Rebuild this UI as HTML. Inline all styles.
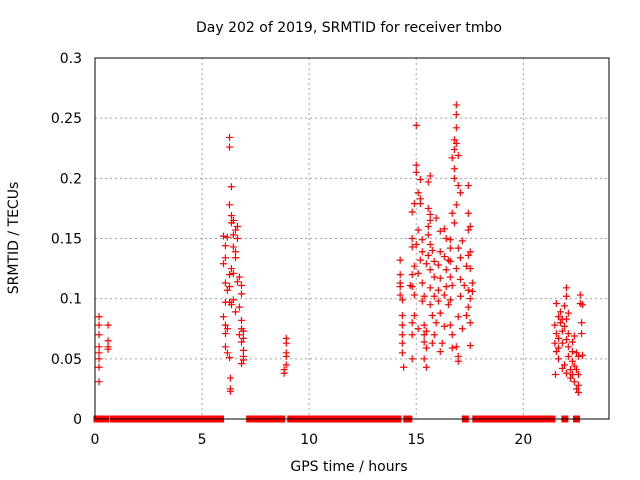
<!DOCTYPE html>
<html><head><meta charset="utf-8"><style>
body{margin:0;background:#fff;}
svg{display:block;font-family:"DejaVu Sans","Liberation Sans",sans-serif;}
</style></head><body>
<svg id="chart" width="640" height="480">
<rect width="640" height="480" fill="#fff"/>
<text x="349" y="32" font-size="14" text-anchor="middle" fill="#000">Day 202 of 2019, SRMTID for receiver tmbo</text>
<text x="349" y="471" font-size="14" text-anchor="middle" fill="#000">GPS time / hours</text>
<text transform="translate(18,238) rotate(-90)" font-size="14" text-anchor="middle" fill="#000">SRMTID / TECUs</text>
<g id="grid"></g><g id="ticks"></g><g id="marks"></g>
<rect x="95" y="58" width="514" height="361" fill="none" stroke="#000" stroke-width="1"/>
</svg>
<script>
const xTicks=[0,5,10,15,20];
const yTicks=[0,0.05,0.1,0.15,0.2,0.25,0.3];
const yTickLabels=["0","0.05","0.1","0.15","0.2","0.25","0.3"];
const zeroStart=[0.09,0.4,0.86,7.22,9.14,14.56,17.29,17.78,21.94,22.48];
const zeroEnd=[0.09,0.49,5.86,8.71,14.14,14.65,17.29,21.33,21.94,22.48];
const t1=[0.19,0.19,0.19,0.19,0.19,0.19,0.19,0.19,0.61,0.61,0.61,0.61];
const v1=[0.085,0.078,0.07,0.06,0.055,0.05,0.043,0.031,0.078,0.065,0.06,0.058];
const t2=[6.28,6.28,6.37,6.28,6.37,6.46,6.37,6.65,6.56,6.46,6.0,6.18,6.65,6.09,6.46,6.56,6.56,6.09,6.0,6.37,6.46,6.28,6.74,6.65,6.84,6.09,6.28,6.18,6.84,6.46,6.09,6.28,6.37,6.74,6.56,6.0,6.84,6.09,6.18,6.84,6.93,6.74,6.09,6.93,6.84,6.09,6.93,6.18,6.93,6.28,6.93,6.84,6.32,6.32,6.32,8.93,8.93,8.93,8.93,8.93,8.83,8.83];
const v2=[0.234,0.226,0.193,0.178,0.169,0.165,0.163,0.16,0.157,0.153,0.152,0.151,0.15,0.144,0.143,0.139,0.134,0.134,0.129,0.125,0.121,0.12,0.118,0.114,0.111,0.113,0.11,0.107,0.104,0.099,0.097,0.097,0.095,0.093,0.089,0.085,0.082,0.078,0.075,0.075,0.073,0.07,0.071,0.067,0.064,0.06,0.057,0.055,0.052,0.051,0.049,0.046,0.034,0.025,0.023,0.067,0.063,0.055,0.052,0.045,0.041,0.038];
const t3=[16.87,16.87,16.87,15.0,16.78,16.87,16.78,16.96,16.68,16.78,15.0,15.0,15.19,15.65,15.56,16.78,16.96,17.43,17.06,15.09,15.19,15.19,14.91,16.87,14.81,15.56,17.43,16.68,15.65,15.93,16.78,15.65,15.56,17.52,15.09,17.43,15.56,16.31,16.12,14.81,15.28,16.59,15.65,17.15,16.4,15.0,15.75,16.59,16.96,16.12,15.28,14.81,17.52,15.56,16.31,16.5,17.06,17.43,14.25,15.19,15.47,15.84,16.03,16.59,17.34,14.91,17.52,16.87,15.65,16.4,15.09,14.25,14.81,15.84,16.12,16.59,17.06,17.62,14.25,14.72,15.28,15.65,16.4,16.68,17.24,14.25,14.81,16.03,17.43,17.62,14.25,14.91,15.37,15.84,16.31,17.06,14.35,15.28,16.03,16.59,17.52,15.65,16.5,17.43,14.35,14.91,16.12,15.75,16.96,17.34,14.81,15.37,15.93,16.59,17.52,14.35,15.09,15.47,16.31,17.15,14.35,15.37,15.84,16.68,14.81,14.35,15.37,15.75,16.21,16.87,17.52,14.35,15.47,16.12,16.68,14.81,15.37,16.96,16.96,14.41,15.47];
const v3=[0.261,0.253,0.242,0.244,0.232,0.229,0.224,0.219,0.217,0.208,0.211,0.205,0.199,0.202,0.197,0.2,0.194,0.194,0.188,0.188,0.183,0.179,0.179,0.178,0.172,0.175,0.171,0.171,0.17,0.167,0.163,0.165,0.16,0.16,0.157,0.157,0.153,0.158,0.156,0.15,0.149,0.149,0.145,0.148,0.15,0.145,0.14,0.142,0.142,0.139,0.139,0.143,0.139,0.136,0.135,0.132,0.134,0.136,0.132,0.132,0.129,0.131,0.128,0.131,0.127,0.127,0.125,0.125,0.124,0.124,0.121,0.12,0.12,0.118,0.117,0.118,0.116,0.113,0.113,0.111,0.113,0.109,0.11,0.111,0.111,0.11,0.11,0.107,0.107,0.106,0.103,0.103,0.102,0.102,0.103,0.102,0.099,0.098,0.098,0.099,0.1,0.095,0.095,0.093,0.086,0.086,0.088,0.086,0.085,0.086,0.08,0.078,0.08,0.078,0.08,0.078,0.075,0.073,0.077,0.075,0.07,0.07,0.07,0.07,0.07,0.063,0.064,0.063,0.063,0.06,0.061,0.055,0.059,0.056,0.059,0.05,0.05,0.052,0.048,0.043,0.043];
const t4=[22.01,22.01,22.66,22.66,22.76,21.54,21.92,21.73,22.1,21.64,21.82,22.01,22.72,21.47,21.73,21.92,21.82,21.54,22.1,22.38,22.72,21.64,22.01,22.29,21.47,21.82,21.64,22.1,21.54,22.29,22.48,22.76,21.64,22.1,22.57,22.29,21.92,22.38,22.2,21.82,22.48,22.01,22.29,21.5,22.57,22.2,22.38,22.57,22.48,22.57];
const v4=[0.109,0.102,0.103,0.096,0.095,0.096,0.094,0.089,0.088,0.085,0.083,0.083,0.08,0.078,0.08,0.077,0.073,0.071,0.071,0.069,0.071,0.067,0.066,0.064,0.063,0.063,0.059,0.06,0.056,0.056,0.055,0.053,0.05,0.052,0.052,0.048,0.045,0.044,0.041,0.042,0.041,0.038,0.037,0.037,0.037,0.034,0.031,0.028,0.025,0.022];
const NS="http://www.w3.org/2000/svg";
const X0=95,X1=609,Y0=419,Y1=58;
function xs(h){return X0+h/24*(X1-X0);}
function ys(v){return Y0-v/0.3*(Y0-Y1);}
function mk(tag,attrs,parent){const e=document.createElementNS(NS,tag);for(const k in attrs)e.setAttribute(k,attrs[k]);parent.appendChild(e);return e;}
const grid=document.getElementById('grid'),ticks=document.getElementById('ticks'),marks=document.getElementById('marks');
xTicks.forEach(t=>{
 const x=xs(t);
 if(t>0){const g=mk('line',{x1:x,x2:x,y1:Y1,y2:Y0,stroke:'#a0a0a0','stroke-dasharray':'2,3'},grid);
 
 }
 const l=mk('text',{x:x,y:444,'font-size':14,'text-anchor':'middle'},ticks);l.textContent=t;
 
 
});
yTicks.forEach((t,i)=>{
 const y=ys(t);
 if(t>0&&t<0.3){const g=mk('line',{x1:X0,x2:X1,y1:y,y2:y,stroke:'#a0a0a0','stroke-dasharray':'2,3'},grid);
 
 }
 const l=mk('text',{x:82,y:y+5,'font-size':14,'text-anchor':'end'},ticks);l.textContent=yTickLabels[i];
 
 
});
zeroStart.forEach((s,i)=>{
 const a=xs(s)-3.5,b=xs(zeroEnd[i])+3.5;
 const r=mk('rect',{x:a,y:Y0-3.5,width:b-a,height:7,fill:'#ff0000'},marks);
 
 
});
function plus(t,v){
 const x=xs(t),y=ys(v);
 const p=mk('path',{d:`M${x-3.5} ${y}H${x+3.5}M${x} ${y-3.5}V${y+3.5}`,stroke:'#ff0000','stroke-width':1.2,fill:'none'},marks);
 
 
}
[[t1,v1],[t2,v2],[t3,v3],[t4,v4]].forEach(([ts,vs])=>ts.forEach((t,i)=>plus(t,vs[i])));
</script>
</body></html>
